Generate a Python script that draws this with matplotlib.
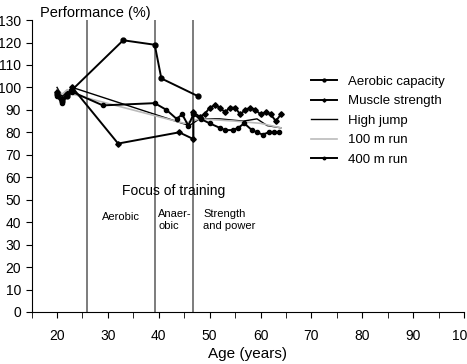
import numpy as np
import matplotlib.pyplot as plt

plt.rcParams['font.family'] = ['Liberation Sans', 'DejaVu Sans']

# series (age in years, performance in %)
aerobic_age = [20, 21, 22, 23, 33, 39.2, 40.5, 47.8]
aerobic_val = [97, 94, 96, 99, 121, 119, 104, 96]

muscle_age = [20, 21, 22, 23, 32, 44, 46.8, 46.8, 48, 49, 50, 51, 52, 53, 54, 55, 56, 57, 58, 59, 60, 61, 62, 63, 64]
muscle_val = [98, 95, 97, 100, 75, 80, 77, 89, 87, 88, 91, 92, 91, 89, 91, 91, 88, 90, 91, 90, 88, 89, 88, 85, 88]

highjump_age = [20, 21, 22, 23, 46, 48, 52, 56.6, 59.3, 61.3, 64]
highjump_val = [100, 96, 98, 100, 83, 86, 86, 85, 86, 83, 82]

run100_age = [20, 21, 22, 23, 45, 48, 55, 60, 64]
run100_val = [99, 97, 99, 97, 84, 86, 85, 84, 82]

run400_age = [20, 21, 22, 23, 29, 39.2, 41.5, 43.5, 44.6, 45.8, 46.8, 48.2, 50, 52, 53, 54.5, 55.6, 56.8, 58.3, 59.3, 60.4, 61.6, 62.7, 63.6]
run400_val = [96, 93, 97, 98, 92, 93, 90, 86, 88, 83, 88, 86, 84, 82, 81, 81, 82, 84, 81, 80, 79, 80, 80, 80]

phase_lines = [25.9, 39.2, 46.7]

fig = plt.figure(figsize=(4.67, 3.64), dpi=100)
ax = fig.add_axes([0.0677, 0.1429, 0.926, 0.802])

for x in phase_lines:
    ax.axvline(x, color='#666666', lw=1.2, zorder=1)

ax.plot(aerobic_age, aerobic_val, color='black', lw=1.4, marker='o', ms=3.5, label='Aerobic capacity', zorder=3)
ax.plot(muscle_age, muscle_val, color='black', lw=1.4, marker='D', ms=2.8, label='Muscle strength', zorder=3)
ax.plot(highjump_age, highjump_val, color='black', lw=1.0, label='High jump', zorder=2)
ax.plot(run100_age, run100_val, color='#bbbbbb', lw=1.2, label='100 m run', zorder=2)
ax.plot(run400_age, run400_val, color='black', lw=1.4, marker='o', ms=3.0, label='400 m run', zorder=3)

ax.text(43.0, 54, 'Focus of training', ha='center', va='center', fontsize=10)
ax.text(32.5, 42.5, 'Aerobic', ha='center', va='center', fontsize=8)
ax.text(39.9, 46, 'Anaer-\nobic', ha='left', va='top', fontsize=8, linespacing=1.3)
ax.text(48.7, 46, 'Strength\nand power', ha='left', va='top', fontsize=8, linespacing=1.3)

ax.set_xlim(15, 100)
ax.set_ylim(0, 130)
ax.set_xticks(np.arange(20, 101, 10))
ax.set_xticks(np.arange(15, 101, 5), minor=True)
ax.set_yticks(np.arange(0, 131, 10))
ax.tick_params(which='both', direction='out', length=4, labelsize=10)
ax.tick_params(axis='x', pad=8)
for s in ['top', 'right']:
    ax.spines[s].set_visible(False)

ax.set_xlabel('Age (years)', fontsize=11, labelpad=3)
fig.text(0.085, 0.965, 'Performance (%)', fontsize=10.5, ha='left', va='center')

leg = ax.legend(loc='upper left', frameon=False,
                fontsize=9.5, handlelength=2.0, labelspacing=0.55, markerscale=0.6)
leg.set_bbox_to_anchor((0.64, 0.825), transform=fig.transFigure)

fig.savefig('out.png', dpi=100)
